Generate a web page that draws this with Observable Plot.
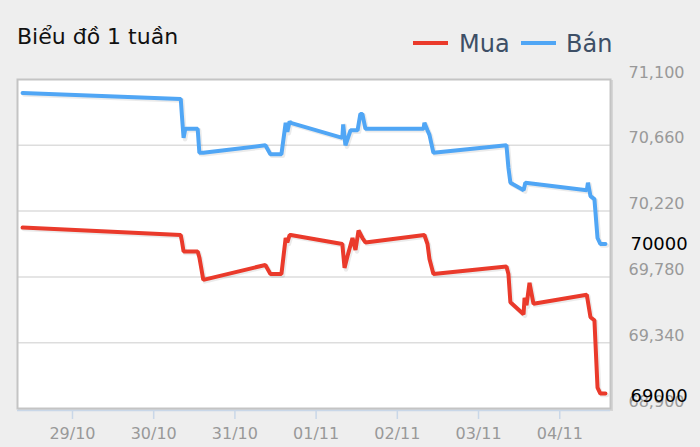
<!DOCTYPE html>
<html>
<head>
<meta charset="utf-8">
<script src="https://cdn.jsdelivr.net/npm/d3@7"></script>
<script src="https://cdn.jsdelivr.net/npm/@observablehq/plot@0.6"></script>
<style>
  html, body { margin: 0; padding: 0; background: #eeeeee; }
  #wrap { position: relative; width: 700px; height: 447px; overflow: hidden; font-family: "DejaVu Sans", sans-serif; }
  #header { position: relative; width: 700px; height: 60px; }
  #title { position: absolute; left: 17px; top: 26px; font-size: 22px; line-height: 22px; color: #111; white-space: nowrap; }
  .leg { position: absolute; top: 32px; font-size: 24px; line-height: 24px; color: #3d4f66; white-space: nowrap; }
  .sw { position: absolute; top: 41px; height: 4px; width: 35px; }
  #chart svg { display: block; }
</style>
</head>
<body>
<div id="wrap">
  <div id="header">
    <div id="title">Biểu đồ 1 tuần</div>
    <span class="sw" style="left:413px; background:#ea3a2b;"></span>
    <span class="leg" style="left:459px;">Mua</span>
    <span class="sw" style="left:521px; background:#50a6f5;"></span>
    <span class="leg" style="left:566px;">Bán</span>
  </div>
  <div id="chart"></div>
</div>
<script>
// Bán (sell) series
const sellTimes = [
  "2023-10-28T09:15", "2023-10-30T08:00", "2023-10-30T08:20", "2023-10-30T08:50",
  "2023-10-30T09:20", "2023-10-30T13:00", "2023-10-30T13:30", "2023-10-30T14:40",
  "2023-10-31T09:00", "2023-10-31T10:30", "2023-10-31T13:45", "2023-10-31T15:00",
  "2023-10-31T15:30", "2023-10-31T16:10", "2023-10-31T16:30", "2023-11-01T07:45",
  "2023-11-01T08:00", "2023-11-01T08:40", "2023-11-01T10:10", "2023-11-01T12:15",
  "2023-11-01T13:05", "2023-11-01T13:40", "2023-11-01T14:35", "2023-11-02T07:45",
  "2023-11-02T08:00", "2023-11-02T08:55", "2023-11-02T09:30", "2023-11-02T10:40",
  "2023-11-03T08:15", "2023-11-03T08:50", "2023-11-03T09:25", "2023-11-03T13:20",
  "2023-11-03T13:50", "2023-11-04T08:00", "2023-11-04T08:20", "2023-11-04T09:05",
  "2023-11-04T10:15", "2023-11-04T11:10", "2023-11-04T12:00", "2023-11-04T13:30"
];
const sellValues = [
  71010, 70970, 70860, 70710,
  70770, 70770, 70610, 70610,
  70660, 70600, 70600, 70810,
  70750, 70820, 70810, 70710,
  70800, 70660, 70760, 70760,
  70870, 70870, 70770, 70770,
  70810, 70760, 70730, 70610,
  70660, 70510, 70410, 70360,
  70410, 70360, 70410, 70320,
  70300, 70040, 70000, 70000
];
// Mua (buy) series
const buyTimes = [
  "2023-10-28T09:15", "2023-10-30T08:00", "2023-10-30T08:20", "2023-10-30T08:50",
  "2023-10-30T13:00", "2023-10-30T13:30", "2023-10-30T14:40", "2023-10-31T09:00",
  "2023-10-31T10:30", "2023-10-31T13:45", "2023-10-31T15:00", "2023-10-31T15:30",
  "2023-10-31T16:10", "2023-10-31T16:30", "2023-11-01T07:45", "2023-11-01T08:24",
  "2023-11-01T09:17", "2023-11-01T10:45", "2023-11-01T11:38", "2023-11-01T12:32",
  "2023-11-01T13:42", "2023-11-01T14:35", "2023-11-02T08:00", "2023-11-02T08:55",
  "2023-11-02T09:30", "2023-11-02T10:40", "2023-11-03T08:15", "2023-11-03T08:50",
  "2023-11-03T09:25", "2023-11-03T13:18", "2023-11-03T13:36", "2023-11-03T14:11",
  "2023-11-03T15:04", "2023-11-03T16:15", "2023-11-04T08:00", "2023-11-04T09:05",
  "2023-11-04T10:15", "2023-11-04T11:10", "2023-11-04T12:00", "2023-11-04T13:30"
];
const buyValues = [
  70110, 70060, 70020, 69950,
  69950, 69910, 69760, 69860,
  69800, 69800, 70040, 70010,
  70060, 70060, 70000, 69840,
  69920, 70040, 69960, 70090,
  70040, 70010, 70060, 70000,
  69900, 69800, 69850, 69800,
  69610, 69530, 69640, 69590,
  69740, 69600, 69660, 69510,
  69490, 69040, 69000, 69000
];
const yTicks = [68900, 69340, 69780, 70220, 70660, 71100];
const xTicks = ["2023-10-29T00:00", "2023-10-30T00:00", "2023-10-31T00:00", "2023-11-01T00:00",
                "2023-11-02T00:00", "2023-11-03T00:00", "2023-11-04T00:00"];
const xDomain = ["2023-10-28T07:45", "2023-11-04T15:00"];

const parse = s => new Date(s);
const sell = sellTimes.map((t, i) => ({date: parse(t), value: sellValues[i]}));
const buy = buyTimes.map((t, i) => ({date: parse(t), value: buyValues[i]}));
const lastSell = [sell[sell.length - 1]];
const lastBuy = [buy[buy.length - 1]];

const BLUE = "#50a6f5", RED = "#ea3a2b";
const fmtX = d3.timeFormat("%d/%m");
const fmtY = d3.format(",");

const chart = Plot.plot({
  width: 700,
  height: 387,
  marginLeft: 17,
  marginRight: 90,
  marginTop: 19,
  marginBottom: 39,
  style: {fontFamily: "DejaVu Sans, sans-serif", fontSize: "16px", background: "transparent", overflow: "visible"},
  x: {type: "time", domain: xDomain.map(parse)},
  y: {domain: [68900, 71100]},
  marks: [
    Plot.frame({fill: "#cfcfcf", stroke: "#d6d6d6", strokeWidth: 2, dx: 1.5, dy: 1.5}),
    Plot.frame({fill: "white"}),
    Plot.gridY(yTicks.slice(1, -1), {stroke: "#dddddd", strokeOpacity: 1, strokeWidth: 1.5}),
    Plot.frame({stroke: "#c4c4c4", strokeWidth: 2}),
    Plot.ruleY([68900], {stroke: "#c9d7e8", strokeWidth: 1.5, dy: 2}),
    Plot.axisX({ticks: xTicks.map(parse), tickFormat: fmtX, tickSize: 9, tickPadding: 8,
                stroke: "#c9d7e8", strokeWidth: 1.5, color: "#999999", dy: 2, label: null}),
    Plot.axisY({anchor: "right", ticks: yTicks, tickFormat: fmtY, tickSize: 0, tickPadding: 18,
                textAnchor: "start", dy: -7, color: "#999999", label: null}),
    Plot.line(sell, {x: "date", y: "value", stroke: "#000", strokeOpacity: 0.08, strokeWidth: 4.5, dx: 1.5, dy: 1.5}),
    Plot.line(buy, {x: "date", y: "value", stroke: "#000", strokeOpacity: 0.08, strokeWidth: 4.5, dx: 1.5, dy: 1.5}),
    Plot.line(sell, {x: "date", y: "value", stroke: BLUE, strokeWidth: 4, strokeLinejoin: "miter"}),
    Plot.line(buy, {x: "date", y: "value", stroke: RED, strokeWidth: 4, strokeLinejoin: "miter"}),
    Plot.text(lastSell, {x: "date", y: "value", text: d => String(d.value), dx: 25, dy: 0,
                         textAnchor: "start", fontSize: 18, fill: "#000"}),
    Plot.text(lastBuy, {x: "date", y: "value", text: d => String(d.value), dx: 25, dy: 3,
                        textAnchor: "start", fontSize: 18, fill: "#000"})
  ]
});
document.getElementById("chart").appendChild(chart);
</script>
</body>
</html>
